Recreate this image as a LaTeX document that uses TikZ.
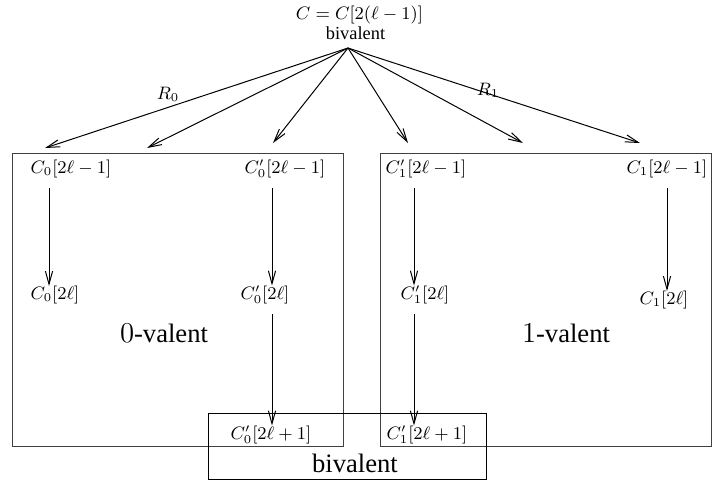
\documentclass[tikz,border=0pt]{standalone}
\usepackage[no-math]{fontspec}
\setmainfont{Liberation Serif}
\usetikzlibrary{arrows.meta}
\begin{document}
\begin{tikzpicture}[x=0.5pt,y=-0.5pt,
  every node/.style={inner sep=0pt,outer sep=0pt},
  lbl/.style={font=\fontsize{9}{10}\selectfont},
  big/.style={font=\fontsize{13.3}{15}\selectfont},
  arr/.style={draw=black,line width=0.5pt,-{Straight Barb[length=6.5pt,width=3.6pt]}},
  boxline/.style={draw=black!75,line width=0.5pt}]
\useasboundingbox (0,0) rectangle (712,484);
% boxes
\draw[boxline] (12,153) rectangle (343,446);
\draw[boxline] (380,153) rectangle (711,446);
\draw[draw=black,line width=0.5pt] (208,413) rectangle (486,479);
% top
\node[lbl] (eq) at (359.5,15) {$C=C[2(\ell-1)]$};
\node[font=\fontsize{9.2}{10}\selectfont] (tb) at (355.5,33) {bivalent};
\coordinate (apex) at (348,48);
\coordinate (t1) at (45,148);
\coordinate (t2) at (147,148);
\coordinate (t3) at (273,143);
\coordinate (t4) at (408,143);
\coordinate (t5) at (523,143);
\coordinate (t6) at (640,143);
\foreach \t in {t1,t2,t3,t4,t5,t6} \draw[arr] (apex) -- (\t);
\node[lbl] (r0) at (168,94) {$R_0$};
\node[lbl] (r1) at (488,90) {$R_1$};
% labels
\node[lbl] (c0a) at (71,169) {$C_0[2\ell-1]$};
\node[lbl] (c0pa) at (285,169) {$C_0'[2\ell-1]$};
\node[lbl] (c1pa) at (426,169) {$C_1'[2\ell-1]$};
\node[lbl] (c1a) at (667,169) {$C_1[2\ell-1]$};
\node[lbl] (c0b) at (55,295) {$C_0[2\ell]$};
\node[lbl] (c0pb) at (265,295) {$C_0'[2\ell]$};
\node[lbl] (c1pb) at (425,295) {$C_1'[2\ell]$};
\node[lbl] (c1b) at (664,300) {$C_1[2\ell]$};
\node[lbl] (c0pc) at (271,435) {$C_0'[2\ell+1]$};
\node[lbl] (c1pc) at (427,435) {$C_1'[2\ell+1]$};
\node[big] (zero) at (164,333) {$0$-valent};
\node[big] (one) at (566,333) {$1$-valent};
\node[big] (bb) at (355,463) {bivalent};
% vertical arrows
\draw[arr] (c0a.south -| 49,0) ++(0,10) -- (c0b.north -| 49,0);
\draw[arr] (c0pa.south -| 272,0) ++(0,10) -- (c0pb.north -| 272,0);
\draw[arr] (c1pa.south -| 414,0) ++(0,10) -- (c1pb.north -| 414,0);
\draw[arr] (c1a.south -| 667,0) ++(0,10) -- (c1b.north -| 667,0);
\draw[arr] (c0pb.south -| 272,0) ++(0,10) -- (c0pc.north -| 272,0);
\draw[arr] (c1pb.south -| 414,0) ++(0,10) -- (c1pc.north -| 414,0);
\end{tikzpicture}
\end{document}
